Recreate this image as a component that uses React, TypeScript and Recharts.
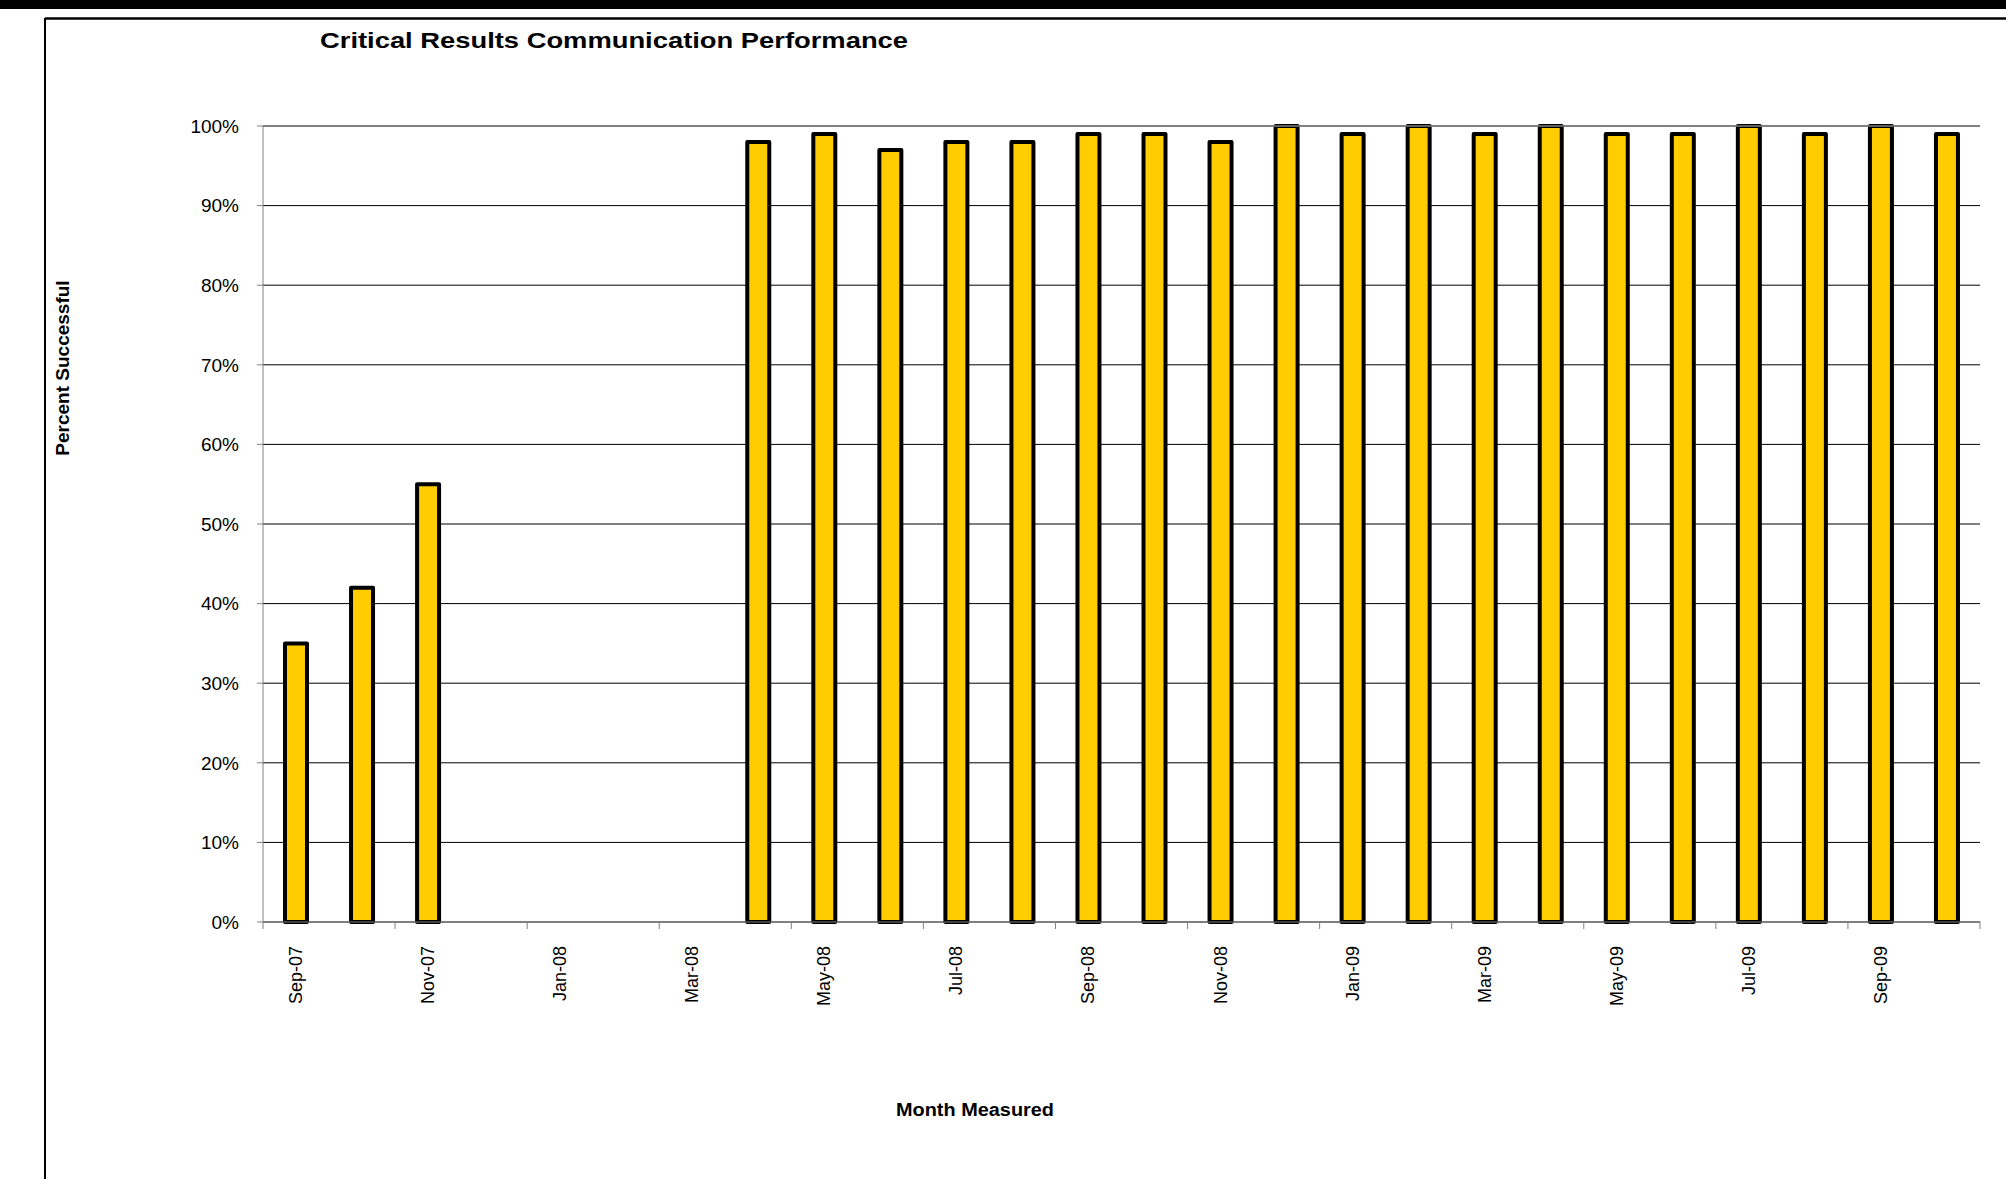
import React from "react";
import {
  Bar,
  BarChart,
  CartesianGrid,
  ReferenceLine,
  XAxis,
  YAxis,
} from "recharts";

const months = [
  "Sep-07", "Oct-07", "Nov-07", "Dec-07", "Jan-08", "Feb-08", "Mar-08",
  "Apr-08", "May-08", "Jun-08", "Jul-08", "Aug-08", "Sep-08", "Oct-08",
  "Nov-08", "Dec-08", "Jan-09", "Feb-09", "Mar-09", "Apr-09", "May-09",
  "Jun-09", "Jul-09", "Aug-09", "Sep-09", "Oct-09",
];

const percentSuccessful: (number | null)[] = [
  35, 42, 55, null, null, null, null,
  98, 99, 97, 98, 98, 99, 99,
  98, 100, 99, 100, 99, 100, 99,
  99, 100, 99, 100, 99,
];

const yTicks = [0, 10, 20, 30, 40, 50, 60, 70, 80, 90, 100];

const data = months.map((m, i) => ({ month: m, pct: percentSuccessful[i] }));

const FONT = "'Liberation Sans', Arial, sans-serif";
const GRAY = "#808080";

function MonthTick(props: any) {
  const { x, y, payload } = props;
  const off = payload?.offset ?? 33;
  const last = payload?.index === months.length - 2;
  return (
    <g>
      <line x1={x - off} x2={x - off} y1={y} y2={y + 7} stroke={GRAY} />
      {last && (
        <line x1={x + 3 * off} x2={x + 3 * off} y1={y} y2={y + 7} stroke={GRAY} />
      )}
      <text
        x={x}
        y={y + 24}
        transform={`rotate(-90 ${x} ${y + 24})`}
        textAnchor="end"
        dominantBaseline="central"
        fontSize={18}
        fontFamily={FONT}
        fill="#000"
      >
        {payload.value}
      </text>
    </g>
  );
}

export default function App() {
  return (
    <div
      style={{
        position: "absolute",
        left: 0,
        top: 0,
        width: 2006,
        height: 1179,
        background: "#fff",
        overflow: "hidden",
      }}
    >
      <BarChart
        width={2006}
        height={1179}
        data={data}
        margin={{ top: 126, right: 26, bottom: 0, left: 0 }}
      >
        <CartesianGrid vertical={false} stroke="#000" strokeWidth={1} />
        <XAxis
          dataKey="month"
          interval={1}
          height={257}
          tickLine={false}
          tickSize={0}
          tickMargin={0}
          axisLine={{ stroke: GRAY }}
          tick={<MonthTick />}
        />
        <YAxis
          width={263}
          domain={[0, 100]}
          ticks={yTicks}
          interval={0}
          tickFormatter={(v) => `${v}%`}
          tickSize={6}
          tickMargin={18}
          tickLine={{ stroke: GRAY }}
          axisLine={{ stroke: GRAY }}
          tick={{ fontSize: 19, fontFamily: FONT, fill: "#000" }}
        />
        <ReferenceLine y={100} stroke={GRAY} strokeWidth={1.5} />
        <Bar
          dataKey="pct"
          barSize={22}
          fill="#FFCC00"
          stroke="#000"
          strokeWidth={4}
          strokeLinejoin="round"
          isAnimationActive={false}
        />
      </BarChart>

      <svg
        width={2006}
        height={1179}
        style={{ position: "absolute", left: 0, top: 0, pointerEvents: "none" }}
      >
        <rect x={0} y={0} width={2006} height={9} fill="#000" />
        <line x1={45} x2={2006} y1={18.5} y2={18.5} stroke="#000" strokeWidth={2.5} />
        <line x1={45} x2={45} y1={18} y2={1179} stroke="#000" strokeWidth={2} />
        <text
          x={614}
          y={48}
          textAnchor="middle"
          fontFamily={FONT}
          fontWeight="bold"
          fontSize={22}
          textLength={588}
          lengthAdjust="spacingAndGlyphs"
        >
          Critical Results Communication Performance
        </text>
        <text
          x={975}
          y={1116}
          textAnchor="middle"
          fontFamily={FONT}
          fontWeight="bold"
          fontSize={18}
          textLength={158}
          lengthAdjust="spacingAndGlyphs"
        >
          Month Measured
        </text>
        <text
          x={69}
          y={368}
          transform="rotate(-90 69 368)"
          textAnchor="middle"
          fontFamily={FONT}
          fontWeight="bold"
          fontSize={19}
        >
          Percent Successful
        </text>
      </svg>
    </div>
  );
}
